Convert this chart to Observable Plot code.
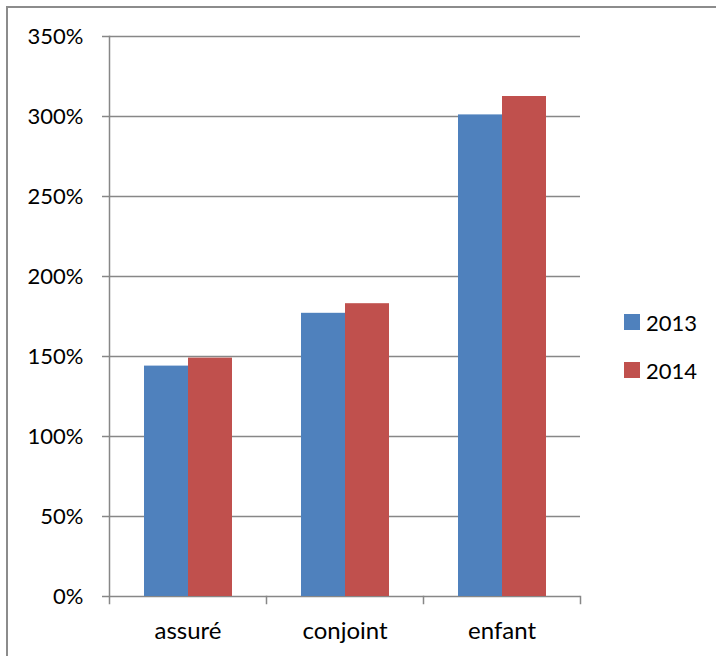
<!DOCTYPE html>
<html>
<head>
<meta charset="utf-8">
<script src="https://cdn.jsdelivr.net/npm/d3@7"></script>
<script src="https://cdn.jsdelivr.net/npm/@observablehq/plot@0.6"></script>
<style>
  html, body { margin: 0; padding: 0; background: #fff; }
  #wrap { position: relative; width: 716px; height: 656px; overflow: hidden; font-family: Lato, "Open Sans", sans-serif; }
  #box { position: absolute; left: 6px; top: 6px; width: 720px; height: 660px;
         border-left: 2px solid #8c8c8c; border-top: 2px solid #8c8c8c; box-sizing: border-box; }
  #chart { position: absolute; left: 0; top: 0; }
  #legend { position: absolute; left: 624px; top: 298px; font-size: 22px; color: #000; }
  #legend .item { display: flex; align-items: center; height: 48px; }
  #legend .sw { width: 16px; height: 16px; margin-right: 6px; }
</style>
</head>
<body>
<div id="wrap">
  <div id="box"></div>
  <div id="chart"></div>
  <div id="legend"></div>
</div>
<script>
// Ratios per beneficiary type, for two years
const categories = ["assuré", "conjoint", "enfant"];
const years = ["2013", "2014"];
const values2013 = [1.44, 1.77, 3.01];
const values2014 = [1.49, 1.83, 3.125];
const yTicks = [0, 0.5, 1, 1.5, 2, 2.5, 3, 3.5];
const colors = ["#4f81bd", "#c0504d"];

const rows = categories.flatMap((c, i) => [
  {category: c, year: years[0], value: values2013[i]},
  {category: c, year: years[1], value: values2014[i]}
]);

const gridColor = "#878787";
const width = 716, height = 656;
const marginTop = 36, marginBottom = 60, marginLeft = 109, marginRight = 136;
const frameHeight = height - marginTop - marginBottom;

const chart = Plot.plot({
  width, height, marginTop, marginBottom, marginLeft, marginRight,
  style: {fontFamily: "Lato, 'Open Sans', sans-serif", fontSize: "22px", color: "#000", background: "transparent"},
  fx: {domain: categories, padding: 0, label: null},
  x: {domain: years, paddingInner: 0, paddingOuter: 0.745, axis: null},
  y: {domain: [0, 3.5], label: null},
  color: {domain: years, range: colors},
  marks: [
    Plot.ruleY(yTicks, {stroke: gridColor, strokeWidth: 1.5}),
    Plot.barY(rows, {fx: "category", x: "year", y: "value", fill: "year"}),
    // vertical value axis line
    Plot.frame({anchor: "left", facetAnchor: "left", stroke: gridColor, strokeWidth: 1.5, insetBottom: -7}),
    // category separators below the baseline
    Plot.frame({anchor: "right", stroke: gridColor, strokeWidth: 1.5, insetTop: frameHeight, insetBottom: -7}),
    Plot.axisY({
      ticks: yTicks, tickSize: 7, tickPadding: 19, stroke: gridColor, strokeWidth: 1.5,
      tickFormat: d => Math.round(d * 100) + "%", fontSize: 22, label: null
    }),
    Plot.axisFx({anchor: "bottom", tickSize: 0, tickPadding: 25, fontSize: 24, label: null})
  ]
});
document.getElementById("chart").appendChild(chart);

// Legend: one swatch per year, stacked vertically
const legend = d3.select("#legend");
years.forEach((y, i) => {
  const item = legend.append("div").attr("class", "item");
  item.append("div").attr("class", "sw").style("background", colors[i]);
  item.append("span").text(y);
});
</script>
</body>
</html>
